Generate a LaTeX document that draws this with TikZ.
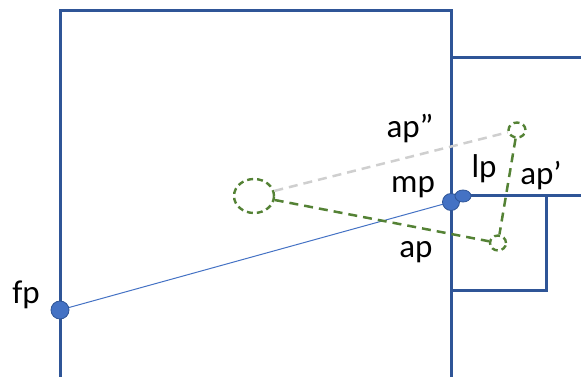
\documentclass[tikz,border=0pt]{standalone}
\usepackage{fontspec}
\setmainfont{Carlito}
\usetikzlibrary{shapes.geometric,backgrounds}
\definecolor{frameblue}{HTML}{2F5597}
\definecolor{dotblue}{HTML}{4472C4}
\definecolor{pathgreen}{RGB}{84,130,53}
\definecolor{raygray}{HTML}{CFCFCF}
\tikzset{
  wall/.style={draw=frameblue, line width=3pt},
  dot/.style={circle, fill=dotblue, draw=frameblue, line width=0.8pt, inner sep=0pt, minimum size=#1},
  oval/.style={ellipse, fill=dotblue, draw=frameblue, line width=0.8pt, inner sep=0pt, minimum width=16pt, minimum height=12pt},
  ghost/.style={ellipse, draw=pathgreen, line width=2.4pt, dash pattern=on 6pt off 4pt, inner sep=0pt},
  lbl/.style={font=\fontsize{33}{38}\selectfont, inner sep=0pt, anchor=base},
  ray/.style={line width=2.5pt, dash pattern=on 9pt off 6pt},
}
\begin{document}
\begin{tikzpicture}[x=1pt, y=-1pt]
\useasboundingbox (0,0) rectangle (581,377);

% walls
\draw[wall] (60,377) -- (60,11) -- (451,11) -- (451,377);
\draw[wall] (451,58) -- (581,58);
\draw[wall] (451,195) -- (581,195);
\draw[wall] (546,195) -- (546,290) -- (451,290);

% points on the walls
\node[dot=18pt] (fp) at (60,310) {};
\node[dot=17pt] (mp) at (451,202) {};
\node[oval] (lp) at (463,196) {};

% mirrored positions
\node[ghost, minimum width=40pt, minimum height=34pt] (src) at (254,196) {};
\node[ghost, minimum width=17pt, minimum height=15pt] (app) at (517,130) {};
\node[ghost, minimum width=16pt, minimum height=15pt] (ap) at (498,243) {};

\begin{scope}[on background layer]
  \draw[dotblue, line width=1pt] (fp.center) -- (mp.center);
\end{scope}
\draw[ray, raygray] (src) -- (app);
\draw[ray, pathgreen] (src) -- (ap);
\draw[ray, pathgreen] (app) -- (ap);

% labels
\node[lbl] (tfp)  at (26,303)  {fp};
\node[lbl] (tmp)  at (413,193) {mp};
\node[lbl] (tlp)  at (484,177) {lp};
\node[lbl] (tap2) at (541,185) {ap’};
\node[lbl] (tap3) at (410,138) {ap”};
\node[lbl] (tap)  at (416,257) {ap};
\end{tikzpicture}
\end{document}
